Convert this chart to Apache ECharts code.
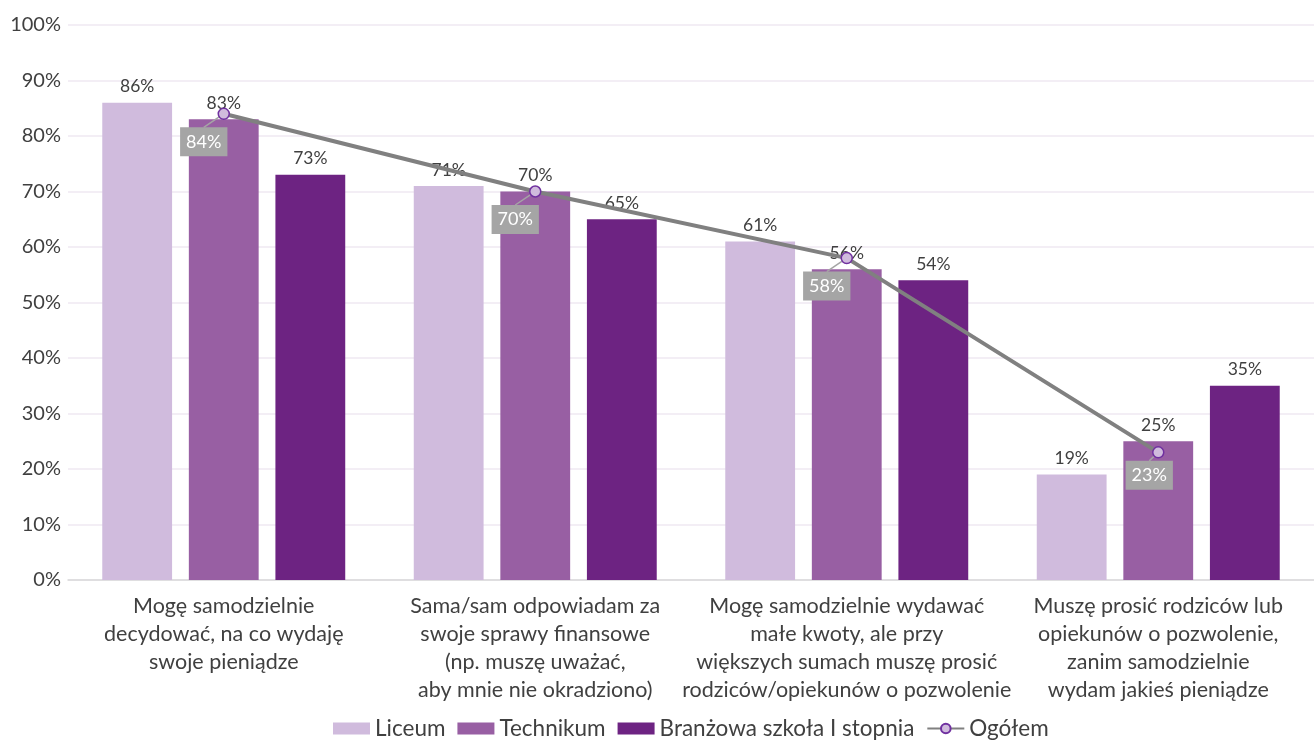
<!DOCTYPE html>
<html>
<head>
<meta charset="utf-8">
<script src="https://cdn.jsdelivr.net/npm/echarts@6/dist/echarts.min.js"></script>
<style>
	html, body { margin: 0; padding: 0; background: #fff; }
	#chart { width: 1314px; height: 740px; }
</style>
</head>
<body>
<div id="chart"></div>
<script>
	// kategorie i wartości
	var categories = [
		'Mogę samodzielnie\ndecydować, na co wydaję\nswoje pieniądze',
		'Sama/sam odpowiadam za\nswoje sprawy finansowe\n(np. muszę uważać,\naby mnie nie okradziono)',
		'Mogę samodzielnie wydawać\nmałe kwoty, ale przy\nwiększych sumach muszę prosić\nrodziców/opiekunów o pozwolenie',
		'Muszę prosić rodziców lub\nopiekunów o pozwolenie,\nzanim samodzielnie\nwydam jakieś pieniądze'
	];
	var liceum = [86, 71, 61, 19];
	var technikum = [83, 70, 56, 25];
	var branzowa = [73, 65, 54, 35];
	var ogolem = [84, 70, 58, 23];

	var font = 'Lato, "Open Sans", sans-serif';
	var textColor = '#404040';

	function barSeries(name, data, color) {
		return {
			name: name,
			type: 'bar',
			data: data,
			barGap: '24%',
			barCategoryGap: '22%',
			itemStyle: { color: color },
			label: {
				show: true,
				position: 'top',
				distance: 7,
				formatter: '{c}%',
				color: textColor,
				fontFamily: font,
				fontSize: 17.5
			}
		};
	}

	var chart = echarts.init(document.getElementById('chart'));
	chart.setOption({
		animation: false,
		textStyle: { fontFamily: font },
		grid: { left: 68, right: -10, top: 25, bottom: 160 },
		legend: {
			bottom: -5,
			left: 328,
			itemWidth: 37,
			itemHeight: 12,
			itemGap: 12,
			textStyle: { color: textColor, fontSize: 22.5, fontFamily: font },
			data: [
				{ name: 'Liceum', icon: 'rect' },
				{ name: 'Technikum', icon: 'rect' },
				{ name: 'Branżowa szkoła I stopnia', icon: 'rect' },
				{ name: 'Ogółem' }
			]
		},
		xAxis: {
			type: 'category',
			data: categories,
			axisLine: { lineStyle: { color: '#d9d9d9', width: 1.5 } },
			axisTick: { show: false },
			axisLabel: {
				interval: 0,
				margin: 12,
				color: textColor,
				fontSize: 21.5,
				lineHeight: 28,
				fontFamily: font
			}
		},
		yAxis: {
			type: 'value',
			min: 0,
			max: 100,
			interval: 10,
			axisLabel: {
				formatter: '{value}%',
				color: textColor,
				fontSize: 20,
				margin: 7,
				fontFamily: font
			},
			splitLine: { lineStyle: { color: '#efe9f2', width: 1.5 } }
		},
		series: [
			barSeries('Liceum', liceum, '#d0bbdd'),
			barSeries('Technikum', technikum, '#985fa3'),
			barSeries('Branżowa szkoła I stopnia', branzowa, '#6d2382'),
			{
				name: 'Ogółem',
				type: 'line',
				data: ogolem,
				z: 5,
				symbol: 'circle',
				symbolSize: 11,
				lineStyle: { color: '#808080', width: 4 },
				itemStyle: { color: '#d0bbdd', borderColor: '#7030a0', borderWidth: 1.5 },
				label: {
					show: true,
					position: 'inside',
					formatter: '{c}%',
					color: '#fff',
					fontSize: 18,
					fontFamily: font,
					backgroundColor: '#a5a5a5',
					padding: [6, 6, 5, 6]
				},
				labelLine: { show: true, lineStyle: { color: '#a5a5a5', width: 1.5 } },
				labelLayout: function (p) {
					var last = p.dataIndex === ogolem.length - 1;
					return { dx: last ? -9 : -20, dy: last ? 23 : 28 };
				}
			}
		]
	});
</script>
</body>
</html>
